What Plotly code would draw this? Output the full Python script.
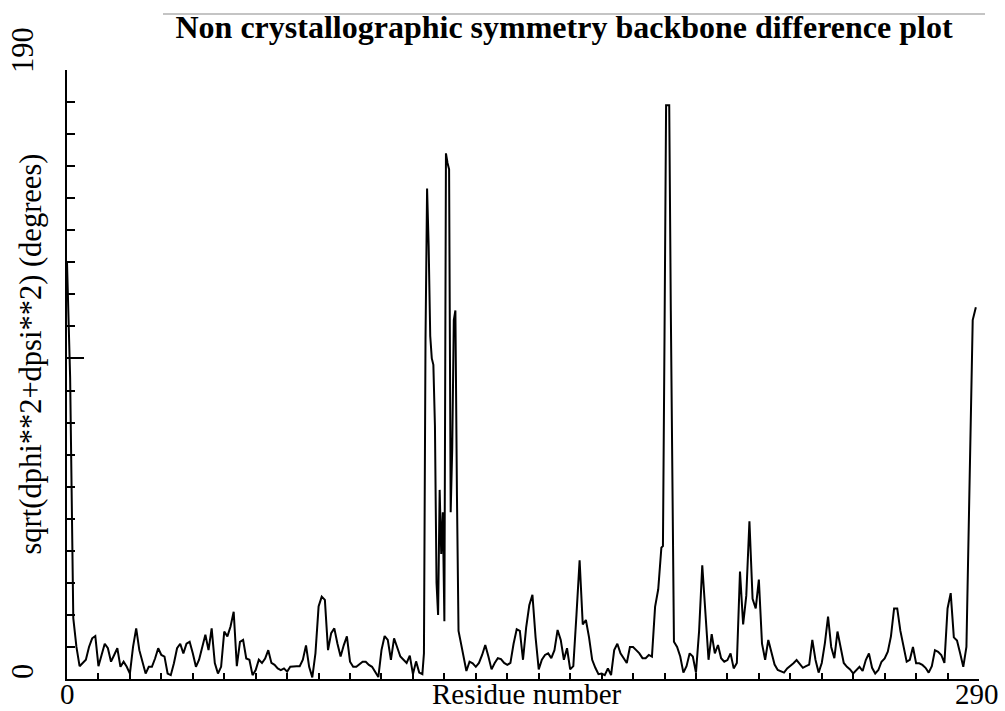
import plotly.graph_objects as go

# ---- data: residue number and sqrt(dphi**2+dpsi**2) in degrees ----
res_a = list(range(0, 113))
val_a = [130, 94, 19, 10, 4, 5, 6, 10, 12.7, 13.4,
         4, 7.5, 11, 9.6, 5.4, 7.5, 9.6, 3.8, 5.4, 3.8,
         1.7, 10, 15.8, 9, 5, 1.7, 3.8, 3.8, 6.4, 9.6,
         7.5, 7, 1.7, 1.2, 4.9, 9.6, 11, 8, 11, 11.6,
         8, 3.8, 6, 9.6, 13.8, 9, 15.8, 5, 1.7, 3.8,
         14.8, 13.3, 16.4, 21, 4, 11.6, 12.2, 6.4, 6, 1.2,
         2.8, 6, 5, 6.4, 9, 5, 4.4, 3.3, 2.8, 3.3,
         2.3, 3.8, 4, 4, 4, 6, 10.5, 3.8, 0.5, 8,
         22.6, 25.7, 24.7, 9, 14.3, 15.8, 11, 7, 10.5, 13.3,
         5.4, 3.8, 3.8, 4.6, 5.4, 5.4, 4.4, 3.8, 2.3, 0.6,
         9, 13.4, 12.2, 6, 12.7, 9.6, 7, 6, 5, 7.3,
         1.5, 5.5, 2]

res_b = [113, 113.5, 114, 114.5, 115, 115.5, 116, 116.5, 117, 117.5,
         118, 118.5, 119, 119.5, 120, 120.5, 121, 121.5, 122, 122.5,
         123, 123.5, 124, 124.5, 125, 125.5, 126, 126.5, 127]
val_b = [1.5, 8, 106, 153, 135, 107, 100, 98, 79, 30,
         20, 59, 39, 52, 18, 164, 161, 159, 52, 72,
         112, 115, 57, 15, 12.5, 10, 8, 5, 2.5]

res_c = list(range(128, 190))
val_c = [5.4, 4.9, 3.8, 5, 7.5, 10.6, 7, 3, 5, 6.5, 6.2, 5,
         4.4, 5, 11, 15.5, 15, 6, 16, 23, 26.3, 13,
         3, 6, 7.5, 8, 6.5, 9, 15.3, 12.2, 6, 9.6,
         3, 4, 20, 37, 17, 18.4, 13, 6, 3.5, 1.5,
         1.7, 1.2, 3.3, 1.2, 9, 11, 8, 6.5, 5, 10,
         10, 9, 8, 6.5, 6.5, 7.5, 7, 22.5, 28, 41]

res_d = [189.5, 190, 190.5, 191, 191.5, 192]
val_d = [41.5, 107, 179, 179, 179, 115]

res_e = list(range(193, 290))
val_e = [11.6, 10, 7, 2, 4, 8, 7,
         2, 15, 35.5, 22, 6, 14, 8, 10.6, 6.5, 5.4,
         5.9, 8, 3.3, 5, 33.5, 17, 26, 49.2, 25, 22,
         31, 11, 6, 12.2, 8, 4.5, 2.8, 2.3, 2, 3.3,
         4, 4.9, 5.9, 4.5, 3.5, 4, 4.5, 12.2, 6, 2,
         5, 11.2, 19.5, 10, 6.5, 14.8, 10, 5, 3.8, 3,
         1.7, 2.8, 3.8, 2.5, 5.9, 8, 3.5, 1.7, 2.8, 5.4,
         6.4, 8.5, 13.3, 22, 22, 15, 9.6, 5.4, 6, 10,
         4.9, 4.9, 4.4, 3.5, 2, 4, 9, 8.5, 7.5, 5,
         22, 26.8, 13, 12, 8, 3.8, 10, 62.7, 112, 116]

residues = res_a + res_b + res_c + res_d + res_e
values = val_a + val_b + val_c + val_d + val_e

x_range = [0, 290]
y_range = [0, 190]
x_tick_step = 10
y_tick_step = 10
y_major_tick = [100]

title_text = "Non crystallographic symmetry backbone difference plot"
x_title = "Residue number"
y_title = "sqrt(dphi**2+dpsi**2) (degrees)"

SERIF = "Liberation Serif, Times New Roman, serif"

fig = go.Figure()
fig.add_trace(go.Scatter(
    x=residues, y=values, mode="lines",
    line=dict(color="black", width=2),
    hoverinfo="skip", showlegend=False,
))

fig.update_layout(
    width=1005, height=711,
    margin=dict(l=67, r=26, t=70, b=32),
    paper_bgcolor="white", plot_bgcolor="white",
    title=dict(text="<b>" + title_text + "</b>", x=0.545, xref="paper",
               y=1 - 27 / 711, yref="container", xanchor="center", yanchor="middle",
               font=dict(family=SERIF, size=32, color="black")),
    xaxis=dict(range=x_range, showline=True, linecolor="black", linewidth=2,
               showgrid=False, zeroline=False, showticklabels=False,
               ticks="inside", tick0=0, dtick=x_tick_step, ticklen=6,
               tickwidth=2, tickcolor="black"),
    yaxis=dict(range=y_range, showline=True, linecolor="black", linewidth=2,
               showgrid=False, zeroline=False, showticklabels=False,
               ticks="inside", tickmode="array", tickvals=y_major_tick, ticklen=17,
               tickwidth=2, tickcolor="black",
               minor=dict(ticks="inside", tick0=0, dtick=y_tick_step, ticklen=8,
                          tickwidth=2, tickcolor="black", showgrid=False)),
)

side_font = dict(family=SERIF, size=30.5, color="black")
bottom_font = dict(family=SERIF, size=29, color="black")
annos = [
    dict(text=str(y_range[1]), x=0, y=1, xshift=-44, yshift=20, textangle=-90,
         yanchor="middle", font=side_font),
    dict(text=str(y_range[0]), x=0, y=0, xshift=-44, yshift=7, textangle=-90,
         yanchor="middle", font=side_font),
    dict(text=y_title, x=0, y=(679 - 354.5) / 609, xshift=-37, textangle=-90,
         yanchor="middle", font=side_font),
    dict(text=str(x_range[0]), x=0, y=0, yshift=-32, yanchor="bottom", font=bottom_font),
    dict(text=str(x_range[1]), x=1, y=0, xshift=-2.5, yshift=-32, yanchor="bottom",
         font=bottom_font),
    dict(text=x_title, x=(526.5 - 67) / 912, y=0, yshift=-32, yanchor="bottom",
         font=bottom_font),
]
for a in annos:
    fig.add_annotation(xref="paper", yref="paper", showarrow=False,
                       xanchor="center", borderpad=0, **a)

# thin grey rule above the title
fig.add_shape(type="line", xref="paper", yref="paper",
              x0=(163 - 67) / 912, x1=(985 - 67) / 912,
              y0=1 + (70 - 14) / 609, y1=1 + (70 - 14) / 609,
              line=dict(color="#c4c4c4", width=2))

fig.write_html(
    "out.html",
    config={"displayModeBar": False, "staticPlot": True},
    post_script="document.body.style.margin='0';document.body.style.overflow='hidden';",
)
